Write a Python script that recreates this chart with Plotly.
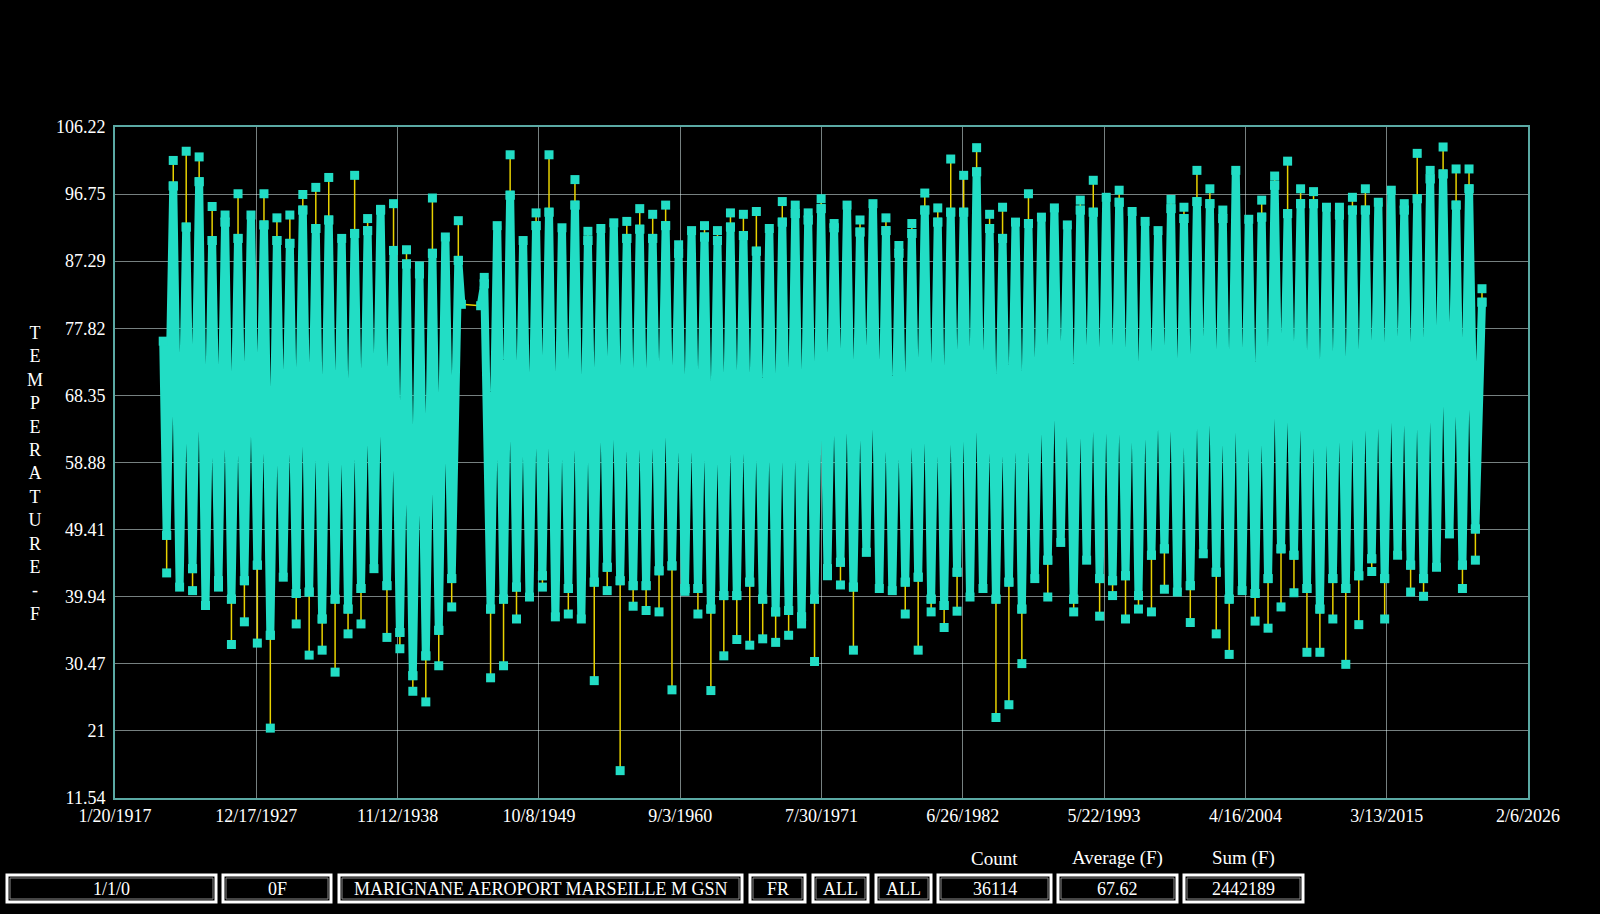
import pandas as pd
import plotly.graph_objects as go

TEAL = "#22DDC5"
YELLOW = "#E8D200"
FONT = "Liberation Serif, Times New Roman, serif"

# summer (july) of each year: highest reading and top of the dense band
SUMMER_YEARS = list(range(1921, 1944)) + list(range(1945, 2023))
SUMMER_PEAK = [101.5, 102.8, 102.0, 95.0, 93.8, 96.8, 93.8, 96.8, 93.4, 93.8,
               96.7, 97.7, 99.1, 90.5, 99.4, 93.3, 94.6, 95.4, 88.9, 86.6,
               96.2, 90.7, 93.0,
               85.0, 92.3, 102.3, 90.2, 94.1, 102.3, 92.0, 98.8, 91.5, 91.9,
               92.7, 92.9, 94.7, 93.9, 95.2, 89.6, 91.6, 92.3, 91.6, 94.1,
               93.9, 94.3, 91.9, 95.7, 95.2, 94.1, 96.1, 92.6, 95.2, 93.1,
               95.4, 93.4, 89.5, 92.6, 96.9, 94.8, 101.7, 99.4, 103.3, 93.9,
               94.9, 92.8, 96.8, 93.5, 94.8, 92.4, 95.9, 98.7, 96.3, 97.3,
               94.3, 92.9, 91.6, 96.0, 94.9, 100.1, 97.5, 94.5, 100.1, 93.2,
               95.9, 99.3, 101.4, 97.5, 97.1, 94.9, 94.9, 96.3, 97.5, 95.6,
               97.3, 95.4, 102.5, 100.1, 103.4, 100.3, 100.3, 83.4]
SUMMER_BAND = [97.9, 92.1, 98.5, 90.2, 92.8, 90.5, 93.8, 92.4, 90.2, 89.8,
               94.5, 91.9, 93.1, 90.5, 91.2, 91.6, 94.5, 88.8, 86.9, 85.5,
               88.4, 90.7, 87.4,
               84.1, 92.3, 96.6, 90.2, 92.3, 94.2, 92.0, 95.2, 90.2, 91.9,
               92.7, 90.5, 91.8, 90.5, 92.3, 88.4, 91.6, 90.7, 90.2, 92.1,
               90.9, 88.7, 91.9, 92.8, 94.0, 93.1, 94.7, 92.0, 95.2, 91.4,
               95.4, 91.6, 88.4, 91.2, 94.5, 92.8, 94.2, 94.2, 99.9, 91.9,
               90.5, 92.8, 92.6, 93.5, 94.8, 92.4, 94.5, 94.2, 96.3, 95.6,
               94.3, 92.9, 91.6, 94.7, 93.3, 95.7, 95.4, 93.3, 100.1, 93.2,
               93.5, 98.0, 94.0, 95.4, 95.4, 94.9, 93.8, 94.5, 94.5, 95.6,
               97.3, 94.5, 96.1, 98.9, 99.6, 95.2, 97.5, 81.5]

# winter (january) of each year: lowest reading and bottom of the dense band
WINTER_YEARS = list(range(1921, 1944)) + list(range(1946, 2023))
WINTER_LOW = [43.3, 41.3, 40.8, 38.7, 41.3, 33.2, 36.4, 33.4, 21.4, 42.7,
              36.1, 31.7, 32.4, 29.3, 34.7, 36.1, 43.9, 34.2, 32.6, 26.6,
              25.1, 30.2, 38.5,
              28.5, 30.2, 36.8, 39.9, 41.3, 37.1, 37.5, 36.8, 28.1, 40.8,
              15.4, 38.6, 38.0, 37.8, 26.8, 40.7, 37.5, 26.7, 31.6, 33.9,
              33.1, 34.0, 33.5, 34.5, 36.1, 30.8, 42.9, 41.6, 32.4, 46.2,
              41.1, 40.8, 37.5, 32.4, 37.8, 35.6, 37.9, 39.9, 41.1, 22.9,
              24.7, 30.5, 42.5, 39.9, 47.6, 37.8, 45.1, 37.2, 40.1, 36.8,
              38.2, 37.8, 41.0, 40.6, 36.3, 46.0, 34.7, 31.8, 40.8, 36.5,
              35.5, 38.5, 40.5, 32.1, 32.1, 36.8, 30.4, 36.0, 43.5, 36.8,
              45.8, 40.6, 40.0, 44.1, 48.8, 41.1, 45.1]
WINTER_BAND = [48.6, 41.3, 43.9, 38.7, 42.2, 39.6, 42.2, 44.4, 34.5, 42.7,
               40.4, 40.6, 36.8, 39.6, 38.2, 41.1, 43.9, 41.5, 34.9, 28.8,
               31.6, 35.2, 42.5,
               38.2, 39.6, 41.3, 39.9, 42.9, 37.1, 41.1, 36.8, 42.0, 44.1,
               42.2, 41.5, 41.5, 43.6, 44.3, 41.1, 41.1, 38.2, 40.1, 40.1,
               42.0, 39.6, 37.8, 38.0, 37.1, 39.6, 43.9, 44.8, 41.3, 46.2,
               41.1, 40.8, 42.0, 42.7, 39.6, 38.7, 43.4, 39.9, 41.1, 39.6,
               42.0, 38.2, 42.5, 45.1, 47.6, 39.6, 45.1, 42.5, 42.2, 42.9,
               40.1, 45.8, 46.7, 40.6, 41.5, 46.0, 43.4, 39.6, 40.8, 40.4,
               42.5, 46.7, 45.8, 41.1, 38.2, 42.5, 41.1, 42.9, 45.3, 42.5,
               45.8, 44.4, 42.5, 44.1, 48.8, 44.4, 49.5]

# first reading, and the readings on both sides of the wartime gap
FIRST_READING = ("1920-10-10", 76.0)
GAP_READINGS = [("1943-10-15", 81.2), ("1945-04-10", 81.0)]

Y_TICKS = [11.54, 21, 30.47, 39.94, 49.41, 58.88, 68.35, 77.82, 87.29, 96.75, 106.22]
X_TICKS = ["1/20/1917", "12/17/1927", "11/12/1938", "10/8/1949", "9/3/1960",
           "7/30/1971", "6/26/1982", "5/22/1993", "4/16/2004", "3/13/2015", "2/6/2026"]

BOX_TEXT = ["1/1/0", "0F", "MARIGNANE AEROPORT MARSEILLE M GSN", "FR", "ALL", "ALL",
            "36114", "67.62", "2442189"]
BOX_HEADERS = {6: "Count", 7: "Average (F)", 8: "Sum (F)"}

summer = {y: (p, b) for y, p, b in zip(SUMMER_YEARS, SUMMER_PEAK, SUMMER_BAND)}
winter = {y: (lo, b) for y, lo, b in zip(WINTER_YEARS, WINTER_LOW, WINTER_BAND)}

# the dense daily band: winter bottom -> summer top -> next winter ...
band_x, band_y = [FIRST_READING[0]], [FIRST_READING[1]]
for yr in range(1921, 2023):
    if yr in winter:
        band_x.append(f"{yr}-01-15")
        band_y.append(winter[yr][1])
    if yr in summer:
        band_x.append(f"{yr}-07-20")
        band_y.append(summer[yr][1])
    if yr == 1943:
        band_x += [GAP_READINGS[0][0], None, GAP_READINGS[1][0]]
        band_y += [GAP_READINGS[0][1], None, GAP_READINGS[1][1]]

# single hot / cold days sticking out of the band
spike_x, spike_y = [], []
for yr, (peak, top) in summer.items():
    if peak > top:
        d = f"{yr}-07-20"
        spike_x += [d, d, None]
        spike_y += [top, peak, None]
for yr, (low, bottom) in winter.items():
    if low < bottom:
        d = f"{yr}-01-15"
        spike_x += [d, d, None]
        spike_y += [bottom, low, None]

fig = go.Figure()
fig.add_trace(go.Scatter(
    x=[g[0] for g in GAP_READINGS], y=[g[1] for g in GAP_READINGS],
    mode="lines", line=dict(color=YELLOW, width=1.5), hoverinfo="skip"))
fig.add_trace(go.Scatter(
    x=band_x, y=band_y, mode="lines+markers",
    line=dict(color=TEAL, width=8, simplify=False),
    marker=dict(symbol="square", size=9, color=TEAL),
    connectgaps=False))
fig.add_trace(go.Scatter(
    x=spike_x, y=spike_y, mode="lines+markers",
    line=dict(color=YELLOW, width=1.5),
    marker=dict(symbol="square", size=9, color=TEAL),
    connectgaps=False))

x_ticks = pd.to_datetime(X_TICKS, format="%m/%d/%Y")
grid = "rgba(235,255,255,0.5)"
border = "#5BA9A4"

fig.update_xaxes(
    type="date", range=[x_ticks[0], x_ticks[-1]],
    tickvals=x_ticks, ticktext=X_TICKS,
    showgrid=True, gridcolor=grid, gridwidth=1,
    showline=True, linecolor=border, linewidth=2, mirror=True,
    zeroline=False, layer="above traces", ticks="")
fig.update_yaxes(
    range=[Y_TICKS[0], Y_TICKS[-1]],
    tickvals=Y_TICKS, ticktext=[f"{v:g}" for v in Y_TICKS],
    showgrid=True, gridcolor=grid, gridwidth=1,
    showline=True, linecolor=border, linewidth=2, mirror=True,
    zeroline=False, layer="above traces", ticks="", ticklabelstandoff=4)

L, R, T, B = 115, 1528, 127, 798


def px(p):
    return (p - L) / (R - L)


def py(p):
    return (B - p) / (B - T)


def label(text, x, y, size):
    return dict(text=text, x=px(x), y=py(y), xref="paper", yref="paper",
                xanchor="center", yanchor="middle", showarrow=False,
                font=dict(family=FONT, size=size, color="white"), align="center")


annotations = [label("<br>".join(c for c in "TEMPERATURE - F" if c != " "), 35, 474, 18)]

box_edges = [(7, 216), (223, 331), (339, 742), (750, 805), (813, 868),
             (876, 931), (938, 1051), (1058, 1177), (1184, 1303)]
shapes = []
for i, (x0, x1) in enumerate(box_edges):
    shapes.append(dict(type="rect", xref="paper", yref="paper",
                       x0=px(x0), x1=px(x1), y0=py(902), y1=py(875),
                       line=dict(color="white", width=3)))
    shapes.append(dict(type="rect", xref="paper", yref="paper",
                       x0=px(x0 + 3), x1=px(x1 - 3), y0=py(899), y1=py(878),
                       line=dict(color="#8a8a8a", width=1)))
    annotations.append(label(BOX_TEXT[i], (x0 + x1) / 2, 889, 18))
    if i in BOX_HEADERS:
        annotations.append(label(BOX_HEADERS[i], (x0 + x1) / 2, 858, 19))

fig.update_layout(
    width=1600, height=914,
    margin=dict(l=L, r=1600 - R, t=T, b=914 - B),
    paper_bgcolor="black", plot_bgcolor="black",
    font=dict(family=FONT, size=18, color="white"),
    showlegend=False, annotations=annotations, shapes=shapes)

fig.write_html("out.html", config={"displayModeBar": False},
               post_script="document.body.style.margin='0px';"
               "document.body.style.background='black';")
